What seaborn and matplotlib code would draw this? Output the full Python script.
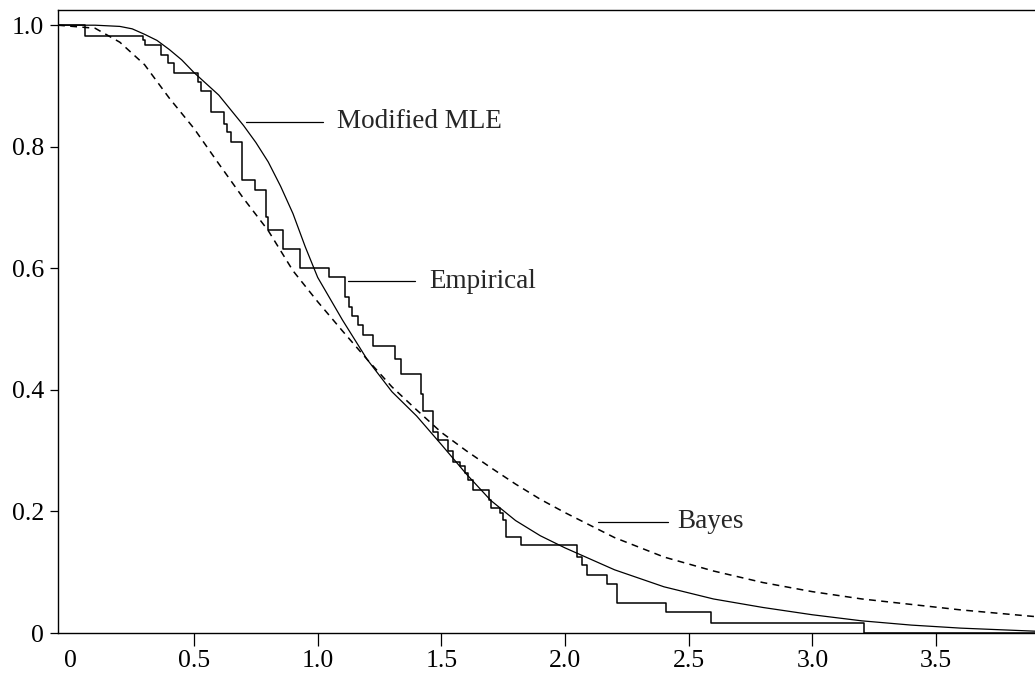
import numpy as np
import pandas as pd
import seaborn as sns
import matplotlib.pyplot as plt

# smooth fitted survival curves
mle_x = [-0.05, 0.1, 0.2, 0.25, 0.3, 0.35, 0.4, 0.45, 0.5, 0.6, 0.7, 0.75, 0.8, 0.85,
         0.9, 0.95, 1.0, 1.1, 1.2, 1.3, 1.4, 1.5, 1.6, 1.7, 1.8, 1.9, 2.0, 2.2, 2.4, 2.6,
         2.8, 3.0, 3.2, 3.4, 3.6, 3.9]
mle_y = [1.0, 1.0, 0.998, 0.994, 0.985, 0.975, 0.960, 0.943, 0.922, 0.885, 0.835, 0.807,
         0.775, 0.735, 0.69, 0.635, 0.585, 0.515, 0.45, 0.397, 0.357, 0.31, 0.262, 0.218,
         0.185, 0.16, 0.14, 0.104, 0.076, 0.056, 0.042, 0.03, 0.02, 0.013, 0.008, 0.003]

bayes_x = [-0.05, 0.1, 0.2, 0.3, 0.4, 0.5, 0.6, 0.7, 0.8, 0.9, 1.0, 1.1, 1.2, 1.3, 1.4,
           1.5, 1.6, 1.7, 1.8, 1.9, 2.0, 2.2, 2.4, 2.6, 2.8, 3.0, 3.2, 3.4, 3.6, 3.9]
bayes_y = [1.0, 0.995, 0.972, 0.935, 0.88, 0.83, 0.772, 0.715, 0.662, 0.596, 0.545,
           0.497, 0.45, 0.405, 0.367, 0.33, 0.30, 0.272, 0.245, 0.22, 0.198, 0.157,
           0.125, 0.102, 0.083, 0.068, 0.056, 0.047, 0.038, 0.027]

# empirical survival: jump times and level after each jump
emp_x = [-0.05, 0.06, 0.294, 0.30, 0.367, 0.395, 0.42, 0.516, 0.53, 0.57, 0.623, 0.635,
         0.65, 0.695, 0.745, 0.79, 0.80, 0.86, 0.927, 1.044, 1.109, 1.125, 1.140, 1.163,
         1.183, 1.224, 1.314, 1.338, 1.416, 1.425, 1.466, 1.485, 1.526, 1.547, 1.574,
         1.594, 1.607, 1.627, 1.694, 1.70, 1.735, 1.748, 1.762, 1.823, 2.05, 2.07, 2.09,
         2.17, 2.21, 2.41, 2.59, 3.21, 3.9]
emp_y = [1.0, 0.983, 0.975, 0.967, 0.951, 0.937, 0.922, 0.907, 0.891, 0.857, 0.838,
         0.825, 0.808, 0.745, 0.729, 0.685, 0.663, 0.632, 0.600, 0.585, 0.553, 0.537,
         0.521, 0.507, 0.49, 0.472, 0.45, 0.426, 0.394, 0.365, 0.33, 0.317, 0.30, 0.282,
         0.274, 0.263, 0.252, 0.235, 0.219, 0.205, 0.197, 0.186, 0.158, 0.145, 0.125,
         0.112, 0.095, 0.080, 0.049, 0.034, 0.017, 0.0, 0.0]

x_ticks = [0, 0.5, 1.0, 1.5, 2.0, 2.5, 3.0, 3.5]
x_labels = ["0", "0.5", "1.0", "1.5", "2.0", "2.5", "3.0", "3.5"]
y_ticks = [0, 0.2, 0.4, 0.6, 0.8, 1.0]
y_labels = ["0", "0.2", "0.4", "0.6", "0.8", "1.0"]

sns.set_theme(style="white")
plt.rcParams['font.family'] = ['Liberation Serif', 'DejaVu Serif']

fig = plt.figure(figsize=(10.35, 6.77), dpi=100)
ax = fig.add_axes([58 / 1035, 44 / 677, 1 - 58 / 1035, 623 / 677])

mle = pd.DataFrame({"x": mle_x, "y": mle_y})
bayes = pd.DataFrame({"x": bayes_x, "y": bayes_y})
emp = pd.DataFrame({"x": emp_x, "y": emp_y})

sns.lineplot(data=mle, x="x", y="y", ax=ax, color="black", lw=0.9, estimator=None)
sns.lineplot(data=bayes, x="x", y="y", ax=ax, color="black", lw=1.1, estimator=None,
             dashes=False, linestyle=(0, (4.5, 3.5)))
sns.lineplot(data=emp, x="x", y="y", ax=ax, color="black", lw=1.1, estimator=None,
             drawstyle="steps-post")

# leader lines and labels
ax.plot([0.712, 1.021], [0.841, 0.841], color="black", lw=0.9)
ax.text(1.076, 0.841, "Modified MLE", fontsize=19.5, va="center", ha="left")
ax.plot([1.122, 1.395], [0.579, 0.579], color="black", lw=0.9)
ax.text(1.452, 0.579, "Empirical", fontsize=19.5, va="center", ha="left")
ax.plot([2.132, 2.418], [0.183, 0.183], color="black", lw=0.9)
ax.text(2.455, 0.183, "Bayes", fontsize=19.5, va="center", ha="left")

ax.set_xlim(-0.05, 3.9)
ax.set_ylim(0, 1.025)
ax.set_xticks(x_ticks)
ax.set_xticklabels(x_labels)
ax.set_yticks(y_ticks)
ax.set_yticklabels(y_labels)
ax.set_xlabel("")
ax.set_ylabel("")

ax.tick_params(axis="x", length=9, width=0.9, pad=3.5, labelsize=18.5,
               bottom=True, direction="out", colors="black")
ax.tick_params(axis="y", length=6, width=0.9, pad=4, labelsize=18.5,
               left=True, direction="out", colors="black")
ax.xaxis.get_major_ticks()[0].tick1line.set_visible(False)

for side in ["left", "bottom", "top"]:
    ax.spines[side].set_color("black")
    ax.spines[side].set_linewidth(1.0)
ax.spines["right"].set_visible(False)

fig.savefig("out.png", dpi=100, facecolor="white")
